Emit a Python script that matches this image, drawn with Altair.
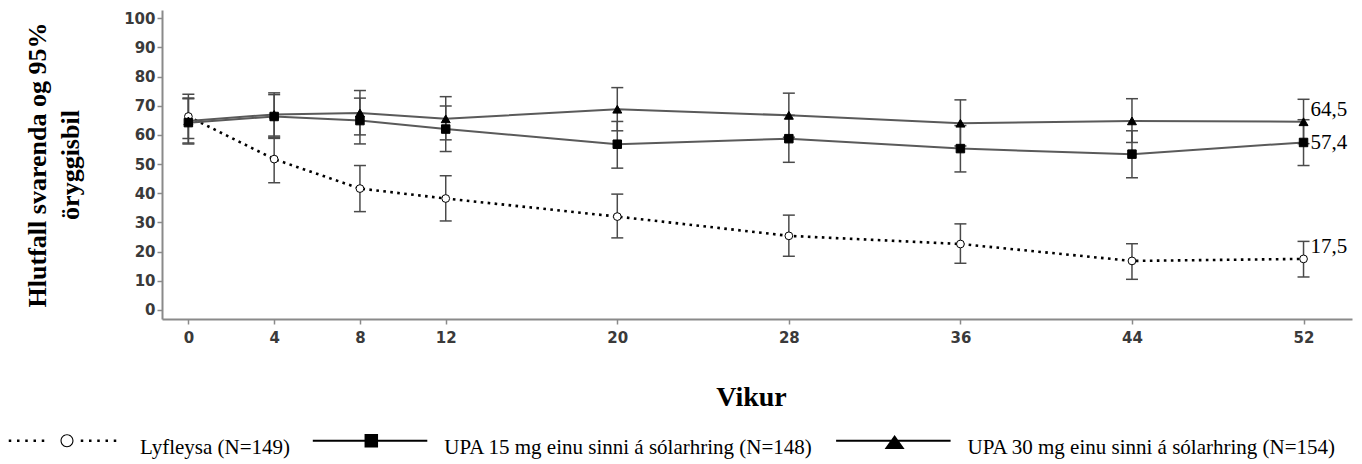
import altair as alt
import pandas as pd

# ---------------- data ----------------
weeks = [0, 4, 8, 12, 20, 28, 36, 44, 52]
series_names = [
    "Lyfleysa (N=149)",
    "UPA 15 mg einu sinni á sólarhring (N=148)",
    "UPA 30 mg einu sinni á sólarhring (N=154)",
]
placebo = [66.3, 51.7, 41.6, 38.2, 32.0, 25.4, 22.6, 16.8, 17.5]
placebo_lo = [58.8, 43.6, 33.7, 30.5, 24.7, 18.4, 16.0, 10.5, 11.3]
placebo_hi = [73.9, 59.2, 49.5, 46.0, 39.7, 32.5, 29.5, 22.7, 23.5]

upa15 = [64.2, 66.3, 64.9, 62.0, 56.8, 58.7, 55.3, 53.4, 57.4]
upa15_lo = [56.9, 58.8, 56.9, 54.3, 48.6, 50.6, 47.3, 45.3, 49.5]
upa15_hi = [72.6, 73.8, 72.6, 69.9, 64.6, 66.7, 63.2, 61.4, 65.2]

upa30 = [64.8, 67.0, 67.5, 65.5, 68.8, 66.7, 64.0, 64.8, 64.5]
upa30_lo = [57.2, 59.6, 60.0, 58.3, 61.4, 59.2, 56.2, 57.4, 57.0]
upa30_hi = [72.4, 74.4, 75.2, 73.1, 76.2, 74.3, 72.0, 72.4, 72.2]

y_ticks = [0, 10, 20, 30, 40, 50, 60, 70, 80, 90, 100]
y_title = ["Hlutfall svarenda og 95%", "öryggisbil"]
x_title = "Vikur"

rows = []
for name, vals, los, his in zip(series_names,
                                [placebo, upa15, upa30],
                                [placebo_lo, upa15_lo, upa30_lo],
                                [placebo_hi, upa15_hi, upa30_hi]):
    for w, v, lo, hi in zip(weeks, vals, los, his):
        rows.append({"series": name, "week": w, "value": v, "lo": lo, "hi": hi})
df = pd.DataFrame(rows)

# ---------------- scales / axes ----------------
x_scale = alt.Scale(domain=[-1.23, 54.26], nice=False, zero=False)
y_scale = alt.Scale(domain=[-3.1, 102.8], nice=False, zero=False)

AX_COL = "#8a8a8a"
LAB_COL = "#3a3a3a"


def x_axis():
    return alt.Axis(values=weeks, title=x_title, grid=False,
                    domainColor=AX_COL, domainWidth=2, tickColor=AX_COL,
                    tickWidth=1.5, tickSize=5, labelFont="DejaVu Sans",
                    labelFontWeight="bold", labelFontSize=15, labelColor=LAB_COL,
                    labelPadding=6, titleFont="Liberation Serif",
                    titleFontWeight="bold", titleFontSize=28, titleColor="black",
                    titleX=589, titleY=86, titleBaseline="alphabetic",
                    titleAlign="center", labelFlush=False)


def y_axis():
    return alt.Axis(values=y_ticks, title=y_title, grid=False,
                    domainColor=AX_COL, domainWidth=2, tickColor=AX_COL,
                    tickWidth=1.5, tickSize=5, labelFont="DejaVu Sans",
                    labelFontWeight="bold", labelFontSize=15, labelColor=LAB_COL,
                    labelPadding=2, titleFont="Liberation Serif",
                    titleFontWeight="bold", titleFontSize=26, titleColor="black",
                    titleLineHeight=33, titlePadding=40, labelFlush=False)


X = alt.X("week:Q", scale=x_scale, axis=x_axis())
base = alt.Chart(df)

layers = []

# connecting lines
line_styles = {
    series_names[0]: dict(color="black", strokeWidth=2.6, strokeDash=[2.6, 4.4]),
    series_names[1]: dict(color="#5a5a5a", strokeWidth=2),
    series_names[2]: dict(color="#5a5a5a", strokeWidth=2),
}
for name in series_names:
    layers.append(
        base.transform_filter(alt.datum.series == name)
        .mark_line(**line_styles[name])
        .encode(x=X, y=alt.Y("value:Q", scale=y_scale, axis=y_axis()))
    )

# error bars
layers.append(
    base.mark_rule(color="#4a4a4a", strokeWidth=1.5).encode(
        x=X,
        y=alt.Y("lo:Q", scale=y_scale, axis=y_axis()),
        y2="hi:Q",
    )
)
layers.append(
    base.transform_fold(["lo", "hi"], as_=["bound", "bv"])
    .mark_tick(orient="horizontal", size=12, thickness=1.5, color="#4a4a4a", opacity=1)
    .encode(x=X, y=alt.Y("bv:Q", scale=y_scale, axis=y_axis()))
)

# markers
point_styles = {
    series_names[0]: dict(shape="circle", size=60, fill="white", stroke="black", strokeWidth=1),
    series_names[1]: dict(shape="square", size=72, fill="black", stroke="black", strokeWidth=1),
    series_names[2]: dict(shape="triangle-up", size=80, fill="black", stroke="black", strokeWidth=1),
}
for name in series_names:
    layers.append(
        base.transform_filter(alt.datum.series == name)
        .mark_point(filled=True, opacity=1, **point_styles[name])
        .encode(x=X, y=alt.Y("value:Q", scale=y_scale, axis=y_axis()))
    )

# end-value labels
label_dy = {series_names[0]: -12, series_names[1]: 1, series_names[2]: -12}
for name in series_names:
    layers.append(
        base.transform_filter((alt.datum.series == name) & (alt.datum.week == weeks[-1]))
        .transform_calculate(lab="replace(format(datum.value, '.1f'), '.', ',')")
        .mark_text(align="left", baseline="middle", dx=7, dy=label_dy[name],
                   font="Liberation Serif", fontSize=21, color="black")
        .encode(x=X, y=alt.Y("value:Q", scale=y_scale, axis=y_axis()), text="lab:N")
    )

# legend glyphs (custom SVG paths, unit = 5 px)
yo = -1.4


def rect(x0, x1, y0, y1):
    return f"M{x0:.2f},{y0:.2f}H{x1:.2f}V{y1:.2f}H{x0:.2f}Z"


dots = [-11.4, -9.75, -8.1, -6.45, -4.8, 3.0, 4.65, 6.3, 7.95, 9.6]
R, r = 1.3, 1.08
placebo_glyph = "".join(rect(c - 0.25, c + 0.25, yo - 0.25, yo + 0.25) for c in dots)
placebo_glyph += (f"M{-R},{yo}A{R},{R} 0 1 1 {R},{yo}A{R},{R} 0 1 1 {-R},{yo}Z"
                  f"M{-r},{yo}A{r},{r} 0 1 0 {r},{yo}A{r},{r} 0 1 0 {-r},{yo}Z")
line_bar = rect(-11.7, 11.2, yo - 0.18, yo + 0.18)
upa15_glyph = line_bar + rect(-1.35, 1.35, yo - 1.35, yo + 1.35)
upa30_glyph = line_bar + f"M0,{yo - 1.14:.2f}L2,{yo + 1.66:.2f}L-2,{yo + 1.66:.2f}Z"

legend_layer = base.mark_point(filled=True, opacity=0, color="black").encode(
    x=X,
    y=alt.Y("value:Q", scale=y_scale, axis=y_axis()),
    shape=alt.Shape(
        "series:N",
        scale=alt.Scale(domain=series_names,
                        range=[placebo_glyph, upa15_glyph, upa30_glyph]),
        legend=alt.Legend(
            title=None, orient="none", legendX=-105.5, legendY=427,
            direction="horizontal", columns=3, columnPadding=22.3, padding=0,
            symbolSize=100, symbolStrokeWidth=0, symbolFillColor="black",
            symbolOpacity=1, symbolOffset=0, labelOffset=62.5,
            labelFont="Liberation Serif", labelFontSize=21, labelColor="black",
            labelLimit=0,
        ),
    ),
)
layers.append(legend_layer)

chart = (
    alt.layer(*layers)
    .properties(width=1190, height=309, autosize="none",
                padding={"left": 154, "top": 2, "right": 2, "bottom": 142},
                background="white")
    .configure_view(stroke=None)
)

chart.save("out.html", embed_options={"renderer": "svg", "actions": False})
